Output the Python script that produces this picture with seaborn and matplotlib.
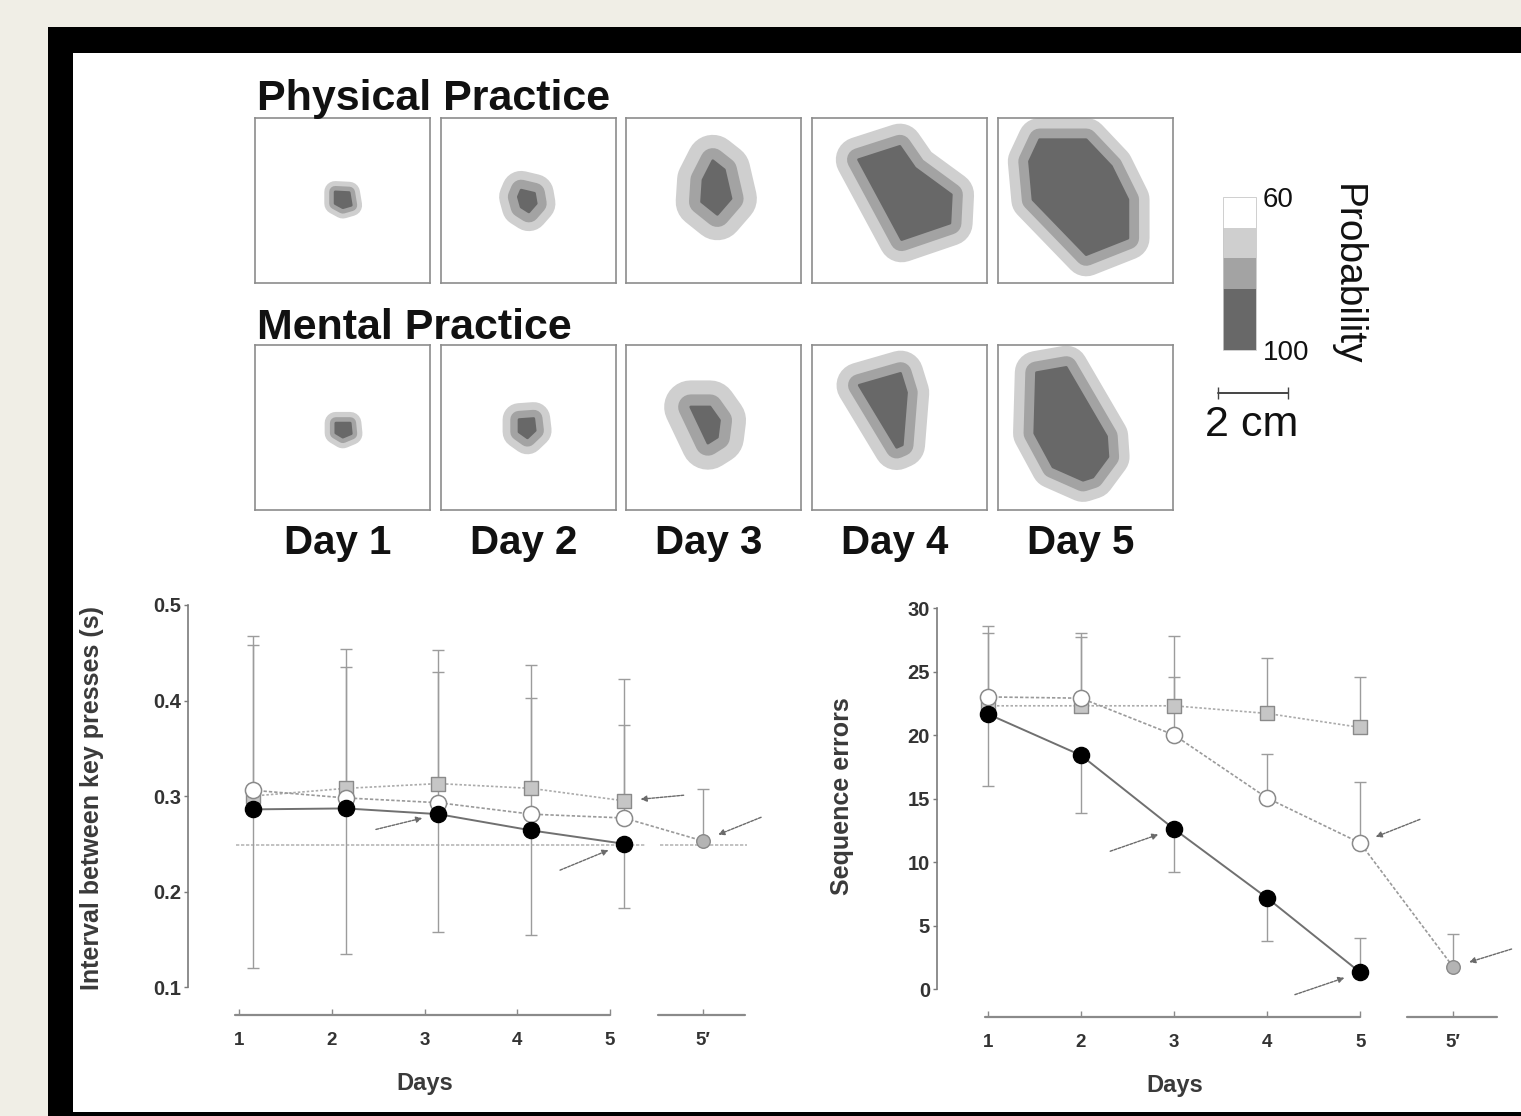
'''
Motor map expansion (TMS) and sequence learning performance
'''

import numpy as np
import matplotlib
matplotlib.use('Agg')
import matplotlib.pyplot as plt
from matplotlib.patches import Polygon, Rectangle
from matplotlib.colors import ListedColormap, BoundaryNorm
from matplotlib.cm import ScalarMappable
import seaborn as sns

# ---------------- data ----------------
day_labels = ['Day 1', 'Day 2', 'Day 3', 'Day 4', 'Day 5']
days = np.array([1, 2, 3, 4, 5])
tick_labels = ['1', '2', '3', '4', '5', '5\u2032']

# probability contours, cm inside a 5 x 4.71 cm window:
# core polygon (highest probability) and widths of the two outer bands (cm)
physical_core = [
    [(2.29, 2.60), (2.69, 2.58), (2.75, 2.22), (2.51, 2.15), (2.29, 2.27)],
    [(2.29, 2.65), (2.67, 2.56), (2.72, 2.27), (2.51, 2.03), (2.29, 2.17), (2.21, 2.46)],
    [(2.48, 3.49), (2.81, 3.23), (3.00, 2.41), (2.61, 1.96), (2.16, 2.32), (2.20, 2.94)],
    [(1.33, 3.52), (2.51, 3.90), (2.94, 3.28), (3.98, 2.52), (3.94, 1.71), (2.56, 1.24)],
    [(1.19, 4.09), (2.52, 4.09), (3.24, 3.33), (3.71, 2.38), (3.71, 1.28), (2.52, 0.81),
     (1.00, 2.38), (0.90, 3.47)],
]
physical_bands = [(0.17, 0.14), (0.30, 0.25), (0.36, 0.38), (0.33, 0.32), (0.32, 0.30)]

mental_core = [
    [(2.31, 2.48), (2.72, 2.48), (2.75, 2.18), (2.51, 2.08), (2.31, 2.20)],
    [(2.23, 2.58), (2.65, 2.61), (2.69, 2.27), (2.47, 2.06), (2.23, 2.23)],
    [(1.85, 2.94), (2.40, 2.94), (2.67, 2.56), (2.61, 2.08), (2.34, 1.91)],
    [(1.35, 3.56), (2.53, 3.90), (2.70, 3.35), (2.58, 1.86), (2.42, 1.79)],
    [(1.10, 3.92), (1.95, 4.07), (3.10, 2.10), (3.14, 1.52), (2.71, 0.94), (2.43, 0.85),
     (1.57, 1.23), (1.05, 2.19)],
]
mental_bands = [(0.17, 0.15), (0.25, 0.22), (0.36, 0.40), (0.32, 0.33), (0.32, 0.30)]

prob_bounds = [60, 68, 76, 84, 100]

# interval between key presses (s)
interval_physical = [0.286, 0.287, 0.281, 0.264, 0.250]
interval_mental = [0.306, 0.298, 0.293, 0.281, 0.277]
interval_control = [0.300, 0.308, 0.313, 0.308, 0.295]
interval_5prime = 0.253
interval_physical_lo = [0.120, 0.135, 0.158, 0.154, 0.183]
interval_mental_hi = [0.458, 0.435, 0.430, 0.403, 0.374]
interval_control_hi = [0.468, 0.454, 0.453, 0.437, 0.423]
interval_5prime_hi = 0.307
interval_reference = 0.249

# sequence errors
errors_physical = [21.65, 18.4, 12.6, 7.17, 1.31]
errors_mental = [23.0, 22.9, 20.0, 15.04, 11.5]
errors_control = [22.3, 22.3, 22.3, 21.7, 20.6]
errors_5prime = 1.73
errors_physical_lo = [16.0, 13.9, 9.2, 3.75, np.nan]
errors_physical_hi = [np.nan, np.nan, np.nan, np.nan, 4.0]
errors_mental_hi = [28.0, 27.7, 24.6, 18.5, 16.3]
errors_control_hi = [28.6, 28.0, 27.8, 26.1, 24.6]
errors_5prime_hi = 4.36

# ---------------- figure ----------------
sns.set_theme(style='white')
plt.rcParams['font.family'] = ['Liberation Sans', 'DejaVu Sans']

W, H = 1521, 1116
fig = plt.figure(figsize=(W / 100, H / 100), dpi=100, facecolor='#f0eee6')


def px_axes(x0, y0, x1, y1):
    return fig.add_axes([x0 / W, 1 - y1 / H, (x1 - x0) / W, (y1 - y0) / H])


# black frame and white page
fig.add_artist(Rectangle((48 / W, 0), 1, 1 - 27 / H, transform=fig.transFigure,
                         facecolor='black', edgecolor='none', zorder=-3))
fig.add_artist(Rectangle((73 / W, 1 - 1112 / H), 1, (1112 - 53) / H, transform=fig.transFigure,
                         facecolor='white', edgecolor='none', zorder=-2))

c_light, c_mid, c_dark = '#cfcfcf', '#a3a3a3', '#686868'
pt_per_cm = 35 * 0.72
box_left = [255, 441, 626, 812, 998]

# ---------------- contour maps ----------------
rows = [('Physical Practice', 118, 110, physical_core, physical_bands),
        ('Mental Practice', 345, 339, mental_core, mental_bands)]
for title, top, base, cores, bands in rows:
    fig.text(257 / W, 1 - base / H, title, fontsize=31, fontweight='bold',
             ha='left', va='baseline', color='#111')
    for i, x0 in enumerate(box_left):
        ax = px_axes(x0, top, x0 + 175, top + 165)
        ax.set_xlim(0, 5)
        ax.set_ylim(0, 4.71)
        ax.set_xticks([])
        ax.set_yticks([])
        for s in ax.spines.values():
            s.set_color('#8c8c8c')
            s.set_linewidth(1.2)
        mid, light = bands[i]
        pts = cores[i]
        ax.add_patch(Polygon(pts, closed=True, facecolor=c_light, edgecolor=c_light,
                             linewidth=2 * (mid + light) * pt_per_cm, joinstyle='round'))
        ax.add_patch(Polygon(pts, closed=True, facecolor=c_mid, edgecolor=c_mid,
                             linewidth=2 * mid * pt_per_cm, joinstyle='round'))
        ax.add_patch(Polygon(pts, closed=True, facecolor=c_dark, edgecolor=c_dark,
                             linewidth=2, joinstyle='round'))

for x0, lab in zip(box_left, day_labels):
    fig.text((x0 + 83) / W, 1 - 543 / H, lab, fontsize=29, fontweight='bold',
             ha='center', va='center', color='#111')

# colour scale
cax = px_axes(1223, 197, 1256, 350)
cmap = ListedColormap(['white', c_light, c_mid, c_dark])
norm = BoundaryNorm(prob_bounds, cmap.N)
cb = fig.colorbar(ScalarMappable(norm=norm, cmap=cmap), cax=cax,
                  spacing='proportional', ticks=[60, 100])
cax.invert_yaxis()
cax.minorticks_off()
cb.outline.set_edgecolor('#c8c8c8')
cb.outline.set_linewidth(0.6)
cax.tick_params(which='both', length=0, pad=5, labelsize=20, colors='#111')
fig.text(1347 / W, 1 - 275 / H, 'Probability', rotation=270, fontsize=28,
         ha='center', va='center', color='#111')

# scale bar
sax = px_axes(1218, 386, 1288, 400)
sax.set_xlim(0, 2)
sax.set_ylim(-1, 1)
sax.axis('off')
sax.plot([0, 2], [0, 0], color='#444', lw=1.4, marker='|', markersize=9, clip_on=False)
fig.text(1252 / W, 1 - 425 / H, '2 cm', fontsize=31, ha='center', va='center', color='#111')


# ---------------- line charts ----------------
def style_chart(ax, ybounds, yticks, ylabs, ylabel, segs, ylab_xy, xlab_xy, xticks):
    sns.despine(ax=ax, bottom=True)
    ax.set_facecolor('none')
    ax.spines['left'].set_bounds(*ybounds)
    ax.spines['left'].set_color('#7a7a7a')
    ax.spines['left'].set_linewidth(1.2)
    ax.set_yticks(yticks)
    ax.set_yticklabels(ylabs)
    ax.set_xticks(xticks)
    ax.set_xticklabels(tick_labels)
    ax.tick_params(axis='y', left=True, length=3, width=1, color='#7a7a7a', pad=2,
                   labelsize=14.5, labelcolor='#333')
    ax.tick_params(axis='x', bottom=True, direction='in', length=4, width=1,
                   color='#8a8a8a', pad=12, labelsize=13.5, labelcolor='#333')
    for lab in ax.get_xticklabels() + ax.get_yticklabels():
        lab.set_fontweight('bold')
    for a, b in segs:
        ax.plot([a, b], [0, 0], transform=ax.get_xaxis_transform(), color='#8a8a8a',
                lw=1.6, clip_on=False)
    ax.set_ylabel(ylabel, fontsize=18, fontweight='bold', color='#3a3a3a')
    ax.yaxis.set_label_coords(*ylab_xy)
    ax.set_xlabel('Days', fontsize=17, fontweight='bold', color='#3a3a3a')
    ax.xaxis.set_label_coords(*xlab_xy)


def draw_series(ax, xs, phys, ment, ctrl, prime, phys_lo, phys_hi, ment_hi, ctrl_hi, prime_hi):
    phys = np.array(phys)
    ment = np.array(ment)
    ctrl = np.array(ctrl)
    ekw = dict(fmt='none', ecolor='#9c9c9c', elinewidth=1, capsize=4, capthick=1, zorder=1)
    ax.errorbar(xs, ctrl, yerr=[np.zeros(5), np.array(ctrl_hi) - ctrl], **ekw)
    ax.errorbar(xs, ment, yerr=[np.zeros(5), np.array(ment_hi) - ment], **ekw)
    ax.errorbar(xs, phys, yerr=[np.nan_to_num(phys - np.array(phys_lo)),
                                np.nan_to_num(np.array(phys_hi) - phys)], **ekw)
    ax.errorbar([6], [prime], yerr=[[0], [prime_hi - prime]], **ekw)

    sns.lineplot(x=xs, y=ctrl, ax=ax, color='#ababab', lw=1.2, linestyle=(0, (1.5, 1.2)), zorder=2)
    sns.lineplot(x=list(xs) + [6], y=list(ment) + [prime], ax=ax, color='#9a9a9a', lw=1.2,
                 linestyle=(0, (2, 1.2)), zorder=2, sort=False)
    sns.lineplot(x=xs, y=phys, ax=ax, color='#707070', lw=1.4, zorder=3)

    sns.scatterplot(x=xs, y=ctrl, ax=ax, marker='s', s=105, color='#c6c6c6',
                    edgecolor='#8a8a8a', linewidth=1, zorder=4)
    sns.scatterplot(x=[6], y=[prime], ax=ax, marker='o', s=95, color='#b4b4b4',
                    edgecolor='#888', linewidth=1, zorder=4)
    sns.scatterplot(x=xs, y=ment, ax=ax, marker='o', s=135, color='white',
                    edgecolor='#8a8a8a', linewidth=1.1, zorder=5)
    sns.scatterplot(x=xs, y=phys, ax=ax, marker='o', s=135, color='black',
                    edgecolor='black', linewidth=1, zorder=6)


arrow_kw = dict(arrowstyle='-|>', color='#6a6a6a', lw=1, linestyle=(0, (2, 1)),
                shrinkA=0, shrinkB=12, mutation_scale=9)

# left: interval between key presses
axL = px_axes(188, 605, 770, 1015)
axL.set_xlim(0.45, 6.725)
axL.set_ylim(0.0707, 0.5)
shift = 0.15
xsL = days + shift
axL.hlines([interval_reference, interval_reference], [0.97, 5.54], [5.38, 6.48],
           colors='#b8b8b8', linestyles=(0, (2, 1)), lw=1.2, zorder=0)
draw_series(axL, xsL, interval_physical, interval_mental, interval_control, interval_5prime,
            interval_physical_lo, [np.nan] * 5, interval_mental_hi, interval_control_hi,
            interval_5prime_hi)
style_chart(axL, (0.1, 0.5), [0.1, 0.2, 0.3, 0.4, 0.5], ['0.1', '0.2', '0.3', '0.4', '0.5'],
            'Interval between key presses (s)', [(0.96, 5.0), (5.52, 6.46)],
            (-0.145, 0.53), (0.407, -0.14), [1, 2, 3, 4, 5, 6])
for (x, y), off in [((xsL[2], interval_physical[2]), (-45, -11)),
                    ((xsL[4], interval_control[4]), (43, 4)),
                    ((xsL[4], interval_physical[4]), (-46, -19)),
                    ((6, interval_5prime), (42, 17))]:
    axL.annotate('', xy=(x, y), xytext=off, textcoords='offset points', arrowprops=arrow_kw)

# right: sequence errors
axR = px_axes(937, 608, 1510, 1017)
axR.set_xlim(0.452, 6.61)
axR.set_ylim(-2.2, 30)
draw_series(axR, days, errors_physical, errors_mental, errors_control, errors_5prime,
            errors_physical_lo, errors_physical_hi, errors_mental_hi, errors_control_hi,
            errors_5prime_hi)
style_chart(axR, (0, 30), [0, 5, 10, 15, 20, 25, 30], ['0', '5', '10', '15', '20', '25', '30'],
            'Sequence errors', [(0.968, 5.0), (5.505, 6.47)],
            (-0.145, 0.54), (0.415, -0.14), [1, 2, 3, 4, 5, 6])
for (x, y), off in [((3, errors_physical[2]), (-46, -16)),
                    ((5, errors_mental[4]), (43, 17)),
                    ((5, errors_physical[4]), (-47, -16)),
                    ((6, errors_5prime), (42, 13))]:
    axR.annotate('', xy=(x, y), xytext=off, textcoords='offset points', arrowprops=arrow_kw)

for ax in (axL, axR):
    leg = ax.get_legend()
    if leg is not None:
        leg.remove()

fig.savefig('out.png', dpi=100, facecolor=fig.get_facecolor())
